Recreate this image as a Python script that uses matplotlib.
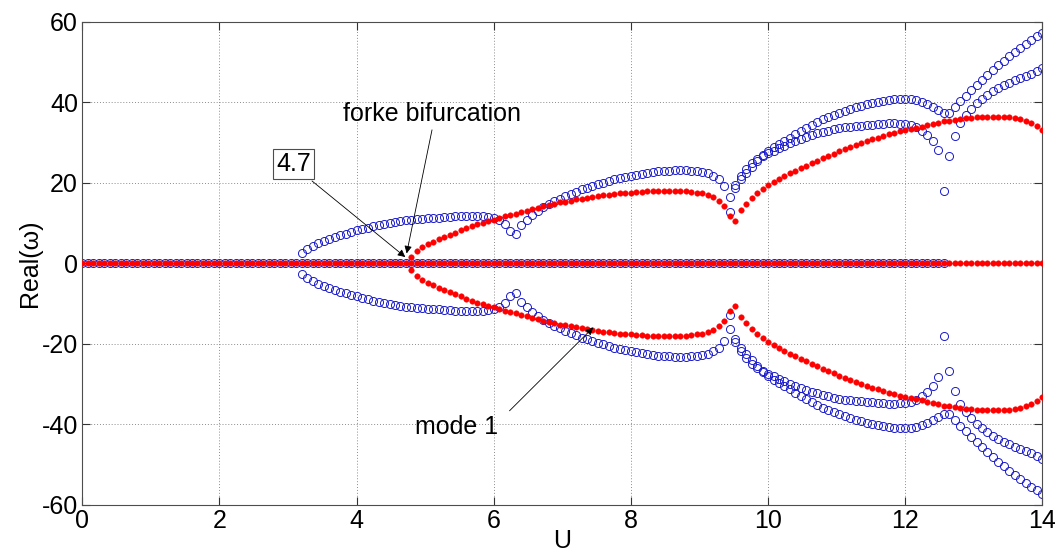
import numpy as np
import matplotlib
matplotlib.use('Agg')
import matplotlib.pyplot as plt

plt.rcParams['font.family'] = ['Liberation Sans', 'DejaVu Sans']
plt.rcParams['axes.unicode_minus'] = False

# sweep of U (step 0.08)
u = np.linspace(0, 14, 176)

# red branch leaving zero at the pitchfork (U = 4.80 ... 14.00)
red_start = 4.80
red_upper = [
    1.6, 3.2, 4.1, 4.8, 5.4, 6.0, 6.6, 7.1, 7.6, 8.2,
    8.7, 9.2, 9.7, 10.1, 10.5, 10.9, 11.3, 11.7, 12.0, 12.4,
    12.8, 13.1, 13.5, 13.9, 14.3, 14.6, 14.9, 15.2, 15.4, 15.6,
    15.9, 16.1, 16.3, 16.5, 16.8, 17.0, 17.1, 17.3, 17.4, 17.5,
    17.6, 17.7, 17.8, 17.9, 18.0, 18.0, 18.1, 18.1, 18.1, 18.0,
    17.9, 17.8, 17.6, 17.4, 17.1, 16.5, 15.6, 14.2, 11.9, 10.6,
    13.2, 14.9, 16.2, 17.4, 18.5, 19.4, 20.2, 21.0, 21.7, 22.4,
    23.0, 23.7, 24.3, 24.9, 25.5, 26.1, 26.7, 27.3, 27.9, 28.5,
    29.0, 29.5, 30.0, 30.4, 30.9, 31.3, 31.7, 32.1, 32.5, 32.8,
    33.1, 33.4, 33.7, 34.0, 34.3, 34.7, 35.0, 35.3, 35.5, 35.7,
    35.9, 36.1, 36.2, 36.3, 36.4, 36.5, 36.5, 36.5, 36.4, 36.3,
    36.1, 35.8, 35.4, 34.9, 34.2, 33.2,
]

# blue branch from U = 3.20 up to the split at 9.36
blue_start = 3.20
blue_upper = [
    2.6, 3.7, 4.4, 5.0, 5.5, 6.0, 6.5, 7.0, 7.4, 7.8,
    8.2, 8.5, 8.9, 9.2, 9.5, 9.8, 10.1, 10.3, 10.5, 10.7,
    10.9, 11.0, 11.1, 11.2, 11.3, 11.4, 11.5, 11.6, 11.7, 11.8,
    11.8, 11.9, 11.9, 11.8, 11.6, 11.4, 10.9, 9.7, 8.0, 7.3,
    9.6, 10.9, 12.1, 13.1, 14.1, 14.9, 15.6, 16.1, 16.7, 17.2,
    17.8, 18.4, 18.8, 19.3, 19.7, 20.1, 20.5, 20.9, 21.2, 21.5,
    21.8, 22.1, 22.3, 22.5, 22.7, 22.9, 23.0, 23.1, 23.2, 23.2,
    23.2, 23.1, 23.0, 22.8, 22.4, 21.8, 21.0, 19.2,
]

# the two blue branches after the split (U = 9.44 ... 14.00)
split_start = 9.44
blue_a = [
    16.4, 19.6, 21.8, 23.4, 24.9, 26.0, 27.0, 28.0, 28.9, 29.7,
    30.5, 31.3, 32.1, 32.9, 33.7, 34.5, 35.2, 35.8, 36.4, 36.9,
    37.4, 37.9, 38.3, 38.8, 39.2, 39.6, 39.9, 40.2, 40.4, 40.6,
    40.8, 40.9, 40.9, 40.8, 40.6, 40.2, 39.7, 38.9, 38.1, 37.5,
    37.3, 38.8, 40.4, 41.6, 43.0, 44.3, 45.6, 46.9, 48.1, 49.3,
    50.4, 51.5, 52.5, 53.5, 54.5, 55.5, 56.4, 57.3,
]
blue_b = [
    12.9, 18.7, 21.0, 22.6, 24.0, 25.4, 26.6, 27.4, 28.0, 28.7,
    29.3, 29.9, 30.4, 30.9, 31.4, 31.9, 32.3, 32.7, 33.0, 33.3,
    33.6, 33.8, 34.0, 34.1, 34.2, 34.3, 34.5, 34.6, 34.7, 34.8,
    34.8, 34.7, 34.6, 34.4, 33.9, 33.0, 31.9, 30.5, 28.1, 18.1,
    26.8, 31.7, 34.8, 37.0, 38.3, 39.8, 40.9, 41.9, 42.8, 43.5,
    44.3, 44.9, 45.5, 46.0, 46.6, 47.2, 47.8, 48.5,
]

# roots with zero real part
blue_zero_end = 12.56
red_zero_end = 14.0


def u_from(start, vals):
    i0 = int(round(start / 0.08))
    return u[i0:i0 + len(vals)]


fig = plt.figure(figsize=(10.55, 5.58), dpi=100)
ax = fig.add_axes([0.078, 0.095, 0.910, 0.8656])

blue_kw = dict(ls='none', marker='o', ms=5.8, mfc='none', mec='#1a1acc', mew=0.7, zorder=2)
red_kw = dict(ls='none', marker='o', ms=4.0, mfc='red', mec='red', mew=0.3, zorder=3)

# blue (open circles)
ub = u[u <= blue_zero_end + 1e-6]
ax.plot(ub, np.zeros(len(ub)), **blue_kw)
for start, vals in [(blue_start, blue_upper), (split_start, blue_a), (split_start, blue_b)]:
    x = u_from(start, vals)
    v = np.array(vals)
    ax.plot(x, v, **blue_kw)
    ax.plot(x, -v, **blue_kw)

# red (filled dots)
ur = u[u <= red_zero_end + 1e-6]
ax.plot(ur, np.zeros(len(ur)), **red_kw)
x = u_from(red_start, red_upper)
v = np.array(red_upper)
ax.plot(x, v, **red_kw)
ax.plot(x, -v, **red_kw)

ax.set_xlim(0, 14)
ax.set_ylim(-60, 60)
ax.set_xticks(np.arange(0, 15, 2))
ax.set_yticks(np.arange(-60, 61, 20))
ax.tick_params(direction='in', length=6, width=0.8, top=True, right=True,
               labelsize=18, colors='0.2', labelcolor='black', pad=3)
ax.grid(True, ls=(0, (1, 2)), color='0.55', lw=0.7)
for s in ax.spines.values():
    s.set_color('0.3')
    s.set_linewidth(0.8)

ax.set_xlabel('U', fontsize=18, labelpad=-3)
ax.set_ylabel('Real(ω)', fontsize=18, labelpad=0)

# annotations
arr = dict(arrowstyle='-|>', color='black', lw=0.6, mutation_scale=11, shrinkA=0, shrinkB=0)
ax.text(5.10, 37.1, 'forke bifurcation', fontsize=18, ha='center', va='center')
ax.annotate('', xy=(4.73, 2.5), xytext=(5.10, 33.2), arrowprops=arr)

ax.text(3.08, 24.6, '4.7', fontsize=18, ha='center', va='center',
        bbox=dict(boxstyle='square,pad=0.12', fc='white', ec='0.3', lw=0.8))
ax.annotate('', xy=(4.71, 1.6), xytext=(3.35, 20.5), arrowprops=arr)

ax.text(5.46, -40.6, 'mode 1', fontsize=18, ha='center', va='center')
ax.annotate('', xy=(7.45, -15.9), xytext=(6.23, -36.6), arrowprops=arr)

fig.savefig('out.png', dpi=100)
